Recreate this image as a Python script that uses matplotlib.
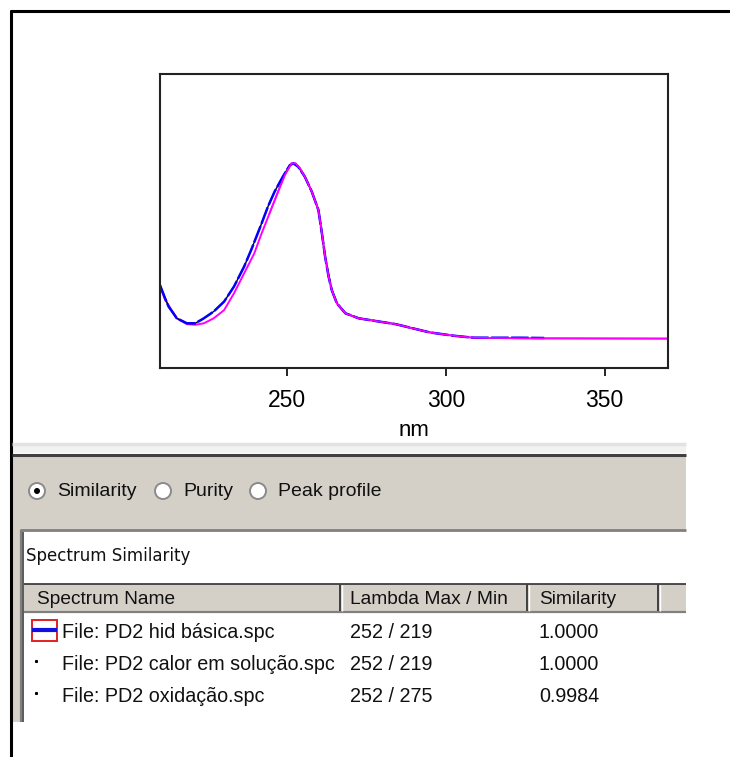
import matplotlib
matplotlib.use("Agg")
import matplotlib.pyplot as plt
from matplotlib.patches import Rectangle, Circle

# spectra (nm, relative absorbance)
blue_nm = [210, 211.6, 212.7, 215.3, 218.5, 221.1, 223.8, 226.9, 230.2, 233.3, 236.5, 238.7,
           241.8, 244.0, 246.1, 248.7, 250.9, 252.0, 253.5, 255.6, 257.8, 259.9, 261.0, 262.0,
           263.1, 264.1, 265.7, 268.4, 272.6, 279.0, 284.3, 289.6, 295.0, 302.3, 308.7, 323.6, 331]
blue_abs = [0.282, 0.237, 0.209, 0.169, 0.152, 0.152, 0.169, 0.192, 0.226, 0.277, 0.345, 0.401,
            0.486, 0.549, 0.600, 0.651, 0.690, 0.696, 0.685, 0.651, 0.600, 0.537, 0.458, 0.379,
            0.311, 0.265, 0.220, 0.186, 0.169, 0.158, 0.149, 0.135, 0.121, 0.110, 0.103, 0.103, 0.102]

black_nm = [210, 212.7, 215.3, 218.5, 221.1, 223.8, 226.9, 230.2, 233.3, 236.5, 238.7, 241.8,
            244.0, 246.1, 248.7, 250.9, 252.0, 253.5, 255.6, 257.8, 259.9, 262.0, 264.1, 266.0,
            268.4, 272.6, 279.0, 284.3, 289.6, 295.0]
black_abs = [0.282, 0.209, 0.169, 0.152, 0.152, 0.169, 0.192, 0.226, 0.277, 0.345, 0.401, 0.486,
             0.549, 0.600, 0.651, 0.690, 0.696, 0.685, 0.651, 0.600, 0.537, 0.379, 0.265, 0.215,
             0.186, 0.169, 0.158, 0.149, 0.135, 0.121]

magenta_nm = [210, 211.6, 215.3, 218.5, 221.1, 223.8, 226.9, 230.2, 233.3, 236.5, 239.7, 241.8,
              244.5, 247.2, 249.3, 251.4, 252.7, 254.1, 255.6, 257.8, 259.9, 261.0, 262.0, 263.1,
              264.1, 265.7, 268.4, 272.6, 279.0, 284.3, 289.6, 295.0, 302.3, 308.7, 323.6, 370]
magenta_abs = [0.277, 0.232, 0.169, 0.149, 0.147, 0.152, 0.169, 0.197, 0.254, 0.322, 0.390, 0.452,
               0.526, 0.600, 0.656, 0.696, 0.696, 0.679, 0.651, 0.600, 0.537, 0.458, 0.379, 0.311,
               0.265, 0.220, 0.186, 0.169, 0.158, 0.149, 0.135, 0.121, 0.110, 0.103, 0.101, 0.100]

x_ticks = [250, 300, 350]

# similarity table
radio_labels = ["Similarity", "Purity", "Peak profile"]
col_headers = ["Spectrum Name", "Lambda Max / Min", "Similarity"]
spec_names = ["File: PD2 hid básica.spc", "File: PD2 calor em solução.spc", "File: PD2 oxidação.spc"]
lambda_maxmin = ["252 / 219", "252 / 219", "252 / 275"]
similarity = ["1.0000", "1.0000", "0.9984"]

W, H = 730, 757
GRAY = "#d4d0c8"
UI = "Liberation Sans"

fig = plt.figure(figsize=(W / 100, H / 100), dpi=100)
fig.patch.set_facecolor("white")

# pixel-space canvas for the window chrome
bg = fig.add_axes([0, 0, 1, 1], zorder=0)
bg.set_xlim(0, W)
bg.set_ylim(H, 0)
bg.axis("off")

def rect(x0, y0, x1, y1, **kw):
    bg.add_patch(Rectangle((x0, y0), x1 - x0, y1 - y0, **kw))

def hline(y, x0, x1, c, lw=1.0):
    bg.plot([x0, x1], [y, y], color=c, lw=lw, solid_capstyle="butt")

def vline(x, y0, y1, c, lw=1.0):
    bg.plot([x, x], [y0, y1], color=c, lw=lw, solid_capstyle="butt")

# outer frame (top + left only)
hline(10.5, 10, W, "black", 2.2)
vline(11, 10, H, "black", 2.2)

# splitter strip + gray panel
rect(12, 443, 686, 453, facecolor="#f1f1f1", edgecolor="none")
hline(444, 12, 686, "#e2e2e2", 2.5)
hline(454.5, 12, 686, "#404040", 2.2)
rect(12, 456, 686, 722, facecolor=GRAY, edgecolor="none")

# radio buttons
radio_x = [37, 163, 258]
text_x = [57, 183, 278]
for i, (rx, tx, lab) in enumerate(zip(radio_x, text_x, radio_labels)):
    bg.add_patch(Circle((rx, 491), 8, facecolor="white", edgecolor="#8a8a8a", lw=1.4))
    if i == 0:
        bg.add_patch(Circle((rx, 491), 3, facecolor="black", edgecolor="none"))
    bg.text(tx, 492, lab, fontsize=14, family=UI, color="#111111", va="center", ha="left")

# white list box
rect(21, 530, 686, 722, facecolor="white", edgecolor="none")
hline(530, 20, 686, "#808080", 2)
vline(20.5, 530, 722, "#808080", 1.6)
vline(23, 532, 722, "#404040", 1.2)
bg.text(26, 556, "Spectrum Similarity", fontsize=12, family="DejaVu Sans",
        color="#111111", va="center", ha="left")

# column header
rect(24, 584, 686, 612, facecolor=GRAY, edgecolor="none")
hline(583.5, 24, 686, "#303030", 1.2)
hline(612, 24, 686, "#808080", 1.6)
col_x = [24, 340, 527, 658]
for cx in col_x[1:]:
    vline(cx, 584, 611, "#404040", 1.4)
    vline(cx + 2, 585, 611, "white", 1.0)
head_x = [37, 350, 539]
for hx, h in zip(head_x, col_headers):
    bg.text(hx, 600, h, fontsize=13.8, family=UI, color="#111111", va="center", ha="left")

# rows
row_y = [633, 664, 696]
for i, y in enumerate(row_y):
    if i == 0:
        rect(32, 620, 57, 641, facecolor="white", edgecolor="#e02020", lw=1.4)
        hline(630, 32, 57, "#1010e0", 3)
    else:
        bg.plot([36], [y - 3], marker="s", ms=1.2, color="black")
    bg.text(62, y, spec_names[i], fontsize=14.2, family=UI, color="#111111", va="center", ha="left")
    bg.text(350, y, lambda_maxmin[i], fontsize=14.2, family=UI, color="#111111", va="center", ha="left")
    bg.text(539, y, similarity[i], fontsize=14.2, family=UI, color="#111111", va="center", ha="left")

# spectrum plot
ax = fig.add_axes([160 / W, 1 - 368 / H, 508 / W, 294 / H], zorder=2)
ax.set_facecolor("white")
ax.plot(magenta_nm, magenta_abs, color="#ff00ff", lw=1.4)
ax.plot(black_nm, black_abs, color="black", lw=1.0)
ax.plot(blue_nm, blue_abs, color="#0000ff", lw=1.8, linestyle=(0, (7, 1)))
ax.plot(magenta_nm[12:], magenta_abs[12:], color="#ff00ff", lw=1.2)
ax.set_xlim(210, 370)
ax.set_ylim(0, 1)
ax.set_xticks(x_ticks)
ax.set_yticks([])
ax.tick_params(axis="x", direction="out", length=6, width=1.2, pad=9, labelsize=16.5)
for lab in ax.get_xticklabels():
    lab.set_family(UI)
for s in ax.spines.values():
    s.set_linewidth(1.5)
    s.set_color("#222222")
ax.set_xlabel("nm", fontsize=16, family=UI, labelpad=6)

fig.savefig("out.png", dpi=100, facecolor="white")
